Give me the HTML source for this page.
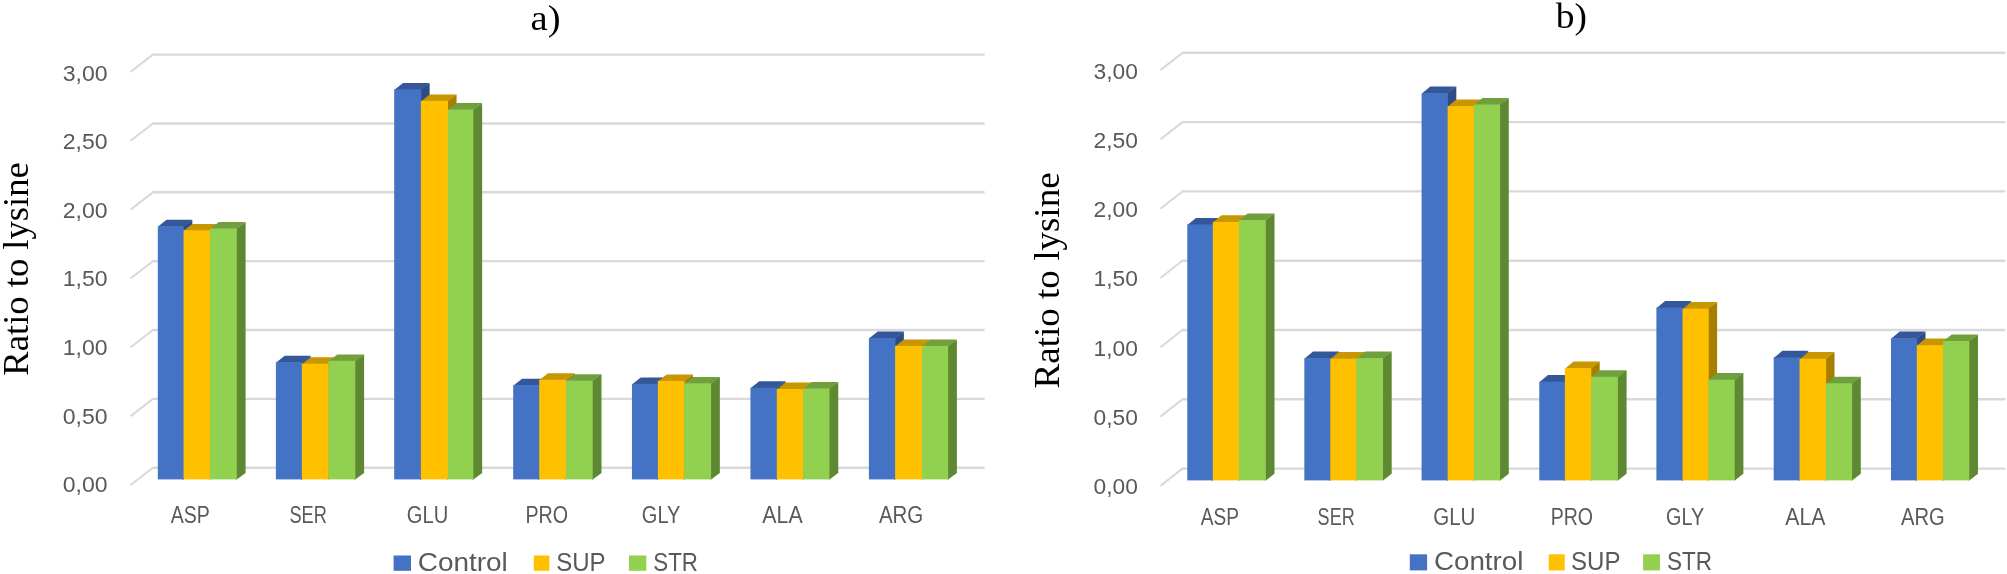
<!DOCTYPE html>
<html lang="en">
<head>
<meta charset="utf-8">
<title>Ratio to lysine - charts a) and b)</title>
<style>
html,body{margin:0;padding:0;background:#fff;}
body{width:2007px;height:574px;overflow:hidden;}
svg{display:block;}
text{white-space:pre;}
</style>
</head>
<body>
<svg width="2007" height="574" viewBox="0 0 2007 574">
<defs><filter id="soft" x="0" y="0" width="100%" height="100%" filterUnits="userSpaceOnUse" color-interpolation-filters="sRGB"><feGaussianBlur stdDeviation="0.45"/></filter></defs>
<g filter="url(#soft)">
<rect x="-10" y="-10" width="2027" height="594" fill="#fff"/>
<!-- chart a) -->
<g fill="none" stroke="#D9D9D9" stroke-width="2.4">
<path d="M152.6 467.7 H984.6"/>
<path d="M152.6 398.85 H984.6"/>
<path d="M152.6 330 H984.6"/>
<path d="M152.6 261.15 H984.6"/>
<path d="M152.6 192.3 H984.6"/>
<path d="M152.6 123.45 H984.6"/>
<path d="M152.6 54.6 H984.6"/>
</g>
<g fill="none" stroke="#D9D9D9" stroke-width="2.0" stroke-linecap="butt">
<path d="M130.6 485 L153.2 467.5"/>
<path d="M130.6 416.15 L153.2 398.65"/>
<path d="M130.6 347.3 L153.2 329.8"/>
<path d="M130.6 278.45 L153.2 260.95"/>
<path d="M130.6 209.6 L153.2 192.1"/>
<path d="M130.6 140.75 L153.2 123.25"/>
<path d="M130.6 71.9 L153.2 54.4"/>
</g>
<g shape-rendering="geometricPrecision">
<path fill="#2E4D87" d="M182.8 226.6 L192.3 219.7 L192.3 473 L182.8 479.9Z"/>
<path fill="#34579A" d="M157.8 226.7 L183.5 226.7 L192.3 219.7 L166.6 219.7Z"/>
<rect fill="#4472C4" x="157.8" y="226.1" width="26" height="253.3"/>
<path fill="#A87E00" d="M209.25 230.8 L218.75 223.9 L218.75 473 L209.25 479.9Z"/>
<path fill="#C79600" d="M183.5 230.9 L209.95 230.9 L218.75 223.9 L192.3 223.9Z"/>
<rect fill="#FFC000" x="183.5" y="230.3" width="26.75" height="249.1"/>
<path fill="#5F8833" d="M236.1 228.9 L245.6 222 L245.6 473 L236.1 479.9Z"/>
<path fill="#70A03E" d="M209.95 229 L236.8 229 L245.6 222 L218.75 222Z"/>
<rect fill="#92D050" x="209.95" y="228.4" width="26.85" height="251"/>
<path fill="#2E4D87" d="M301.15 362.7 L310.65 355.8 L310.65 473 L301.15 479.9Z"/>
<path fill="#34579A" d="M275.9 362.8 L301.85 362.8 L310.65 355.8 L284.7 355.8Z"/>
<rect fill="#4472C4" x="275.9" y="362.2" width="26.25" height="117.2"/>
<path fill="#A87E00" d="M327.7 364.2 L337.2 357.3 L337.2 473 L327.7 479.9Z"/>
<path fill="#C79600" d="M301.85 364.3 L328.4 364.3 L337.2 357.3 L310.65 357.3Z"/>
<rect fill="#FFC000" x="301.85" y="363.7" width="26.85" height="115.7"/>
<path fill="#5F8833" d="M354.6 361.3 L364.1 354.4 L364.1 473 L354.6 479.9Z"/>
<path fill="#70A03E" d="M328.4 361.4 L355.3 361.4 L364.1 354.4 L337.2 354.4Z"/>
<rect fill="#92D050" x="328.4" y="360.8" width="26.9" height="118.6"/>
<path fill="#2E4D87" d="M420.15 89.8 L429.65 82.9 L429.65 473 L420.15 479.9Z"/>
<path fill="#34579A" d="M394.2 89.9 L420.85 89.9 L429.65 82.9 L403 82.9Z"/>
<rect fill="#4472C4" x="394.2" y="89.3" width="26.95" height="390.1"/>
<path fill="#A87E00" d="M447.05 101.3 L456.55 94.4 L456.55 473 L447.05 479.9Z"/>
<path fill="#C79600" d="M420.85 101.4 L447.75 101.4 L456.55 94.4 L429.65 94.4Z"/>
<rect fill="#FFC000" x="420.85" y="100.8" width="27.2" height="378.6"/>
<path fill="#5F8833" d="M472.65 110 L482.15 103.1 L482.15 473 L472.65 479.9Z"/>
<path fill="#70A03E" d="M447.75 110.1 L473.35 110.1 L482.15 103.1 L456.55 103.1Z"/>
<rect fill="#92D050" x="447.75" y="109.5" width="25.6" height="369.9"/>
<path fill="#2E4D87" d="M538.5 385.6 L548 378.7 L548 473 L538.5 479.9Z"/>
<path fill="#34579A" d="M513.2 385.7 L539.2 385.7 L548 378.7 L522 378.7Z"/>
<rect fill="#4472C4" x="513.2" y="385.1" width="26.3" height="94.3"/>
<path fill="#A87E00" d="M565.1 380.2 L574.6 373.3 L574.6 473 L565.1 479.9Z"/>
<path fill="#C79600" d="M539.2 380.3 L565.8 380.3 L574.6 373.3 L548 373.3Z"/>
<rect fill="#FFC000" x="539.2" y="379.7" width="26.9" height="99.7"/>
<path fill="#5F8833" d="M592 381.1 L601.5 374.2 L601.5 473 L592 479.9Z"/>
<path fill="#70A03E" d="M565.8 381.2 L592.7 381.2 L601.5 374.2 L574.6 374.2Z"/>
<rect fill="#92D050" x="565.8" y="380.6" width="26.9" height="98.8"/>
<path fill="#2E4D87" d="M657.15 384.4 L666.65 377.5 L666.65 473 L657.15 479.9Z"/>
<path fill="#34579A" d="M631.95 384.5 L657.85 384.5 L666.65 377.5 L640.75 377.5Z"/>
<rect fill="#4472C4" x="631.95" y="383.9" width="26.2" height="95.5"/>
<path fill="#A87E00" d="M683.45 381.4 L692.95 374.5 L692.95 473 L683.45 479.9Z"/>
<path fill="#C79600" d="M657.85 381.5 L684.15 381.5 L692.95 374.5 L666.65 374.5Z"/>
<rect fill="#FFC000" x="657.85" y="380.9" width="26.6" height="98.5"/>
<path fill="#5F8833" d="M710.35 383.8 L719.85 376.9 L719.85 473 L710.35 479.9Z"/>
<path fill="#70A03E" d="M684.15 383.9 L711.05 383.9 L719.85 376.9 L692.95 376.9Z"/>
<rect fill="#92D050" x="684.15" y="383.3" width="26.9" height="96.1"/>
<path fill="#2E4D87" d="M776.1 388.2 L785.6 381.3 L785.6 473 L776.1 479.9Z"/>
<path fill="#34579A" d="M750.45 388.3 L776.8 388.3 L785.6 381.3 L759.25 381.3Z"/>
<rect fill="#4472C4" x="750.45" y="387.7" width="26.65" height="91.7"/>
<path fill="#A87E00" d="M802.4 389.5 L811.9 382.6 L811.9 473 L802.4 479.9Z"/>
<path fill="#C79600" d="M776.8 389.6 L803.1 389.6 L811.9 382.6 L785.6 382.6Z"/>
<rect fill="#FFC000" x="776.8" y="389" width="26.6" height="90.4"/>
<path fill="#5F8833" d="M828.75 389 L838.25 382.1 L838.25 473 L828.75 479.9Z"/>
<path fill="#70A03E" d="M803.1 389.1 L829.45 389.1 L838.25 382.1 L811.9 382.1Z"/>
<rect fill="#92D050" x="803.1" y="388.5" width="26.35" height="90.9"/>
<path fill="#2E4D87" d="M894.4 338.5 L903.9 331.6 L903.9 473 L894.4 479.9Z"/>
<path fill="#34579A" d="M868.9 338.6 L895.1 338.6 L903.9 331.6 L877.7 331.6Z"/>
<rect fill="#4472C4" x="868.9" y="338" width="26.5" height="141.4"/>
<path fill="#A87E00" d="M921.3 346.4 L930.8 339.5 L930.8 473 L921.3 479.9Z"/>
<path fill="#C79600" d="M895.1 346.5 L922 346.5 L930.8 339.5 L903.9 339.5Z"/>
<rect fill="#FFC000" x="895.1" y="345.9" width="27.2" height="133.5"/>
<path fill="#5F8833" d="M947.4 346.4 L956.9 339.5 L956.9 473 L947.4 479.9Z"/>
<path fill="#70A03E" d="M922 346.5 L948.1 346.5 L956.9 339.5 L930.8 339.5Z"/>
<rect fill="#92D050" x="922" y="345.9" width="26.1" height="133.5"/>
</g>
<g font-family="'Liberation Sans', Arial, sans-serif" font-size="22.3" fill="#595959">
<text x="62.8" y="492.35" textLength="44.9" lengthAdjust="spacingAndGlyphs">0,00</text>
<text x="62.8" y="423.73" textLength="44.9" lengthAdjust="spacingAndGlyphs">0,50</text>
<text x="62.8" y="355.11" textLength="44.9" lengthAdjust="spacingAndGlyphs">1,00</text>
<text x="62.8" y="286.49" textLength="44.9" lengthAdjust="spacingAndGlyphs">1,50</text>
<text x="62.8" y="217.87" textLength="44.9" lengthAdjust="spacingAndGlyphs">2,00</text>
<text x="62.8" y="149.25" textLength="44.9" lengthAdjust="spacingAndGlyphs">2,50</text>
<text x="62.8" y="80.63" textLength="44.9" lengthAdjust="spacingAndGlyphs">3,00</text>
</g>
<g font-family="'Liberation Sans', Arial, sans-serif" font-size="23" fill="#595959">
<text x="170.8" y="523.3" textLength="39.1" lengthAdjust="spacingAndGlyphs">ASP</text>
<text x="289.4" y="523.3" textLength="37.4" lengthAdjust="spacingAndGlyphs">SER</text>
<text x="406.8" y="523.3" textLength="41.4" lengthAdjust="spacingAndGlyphs">GLU</text>
<text x="525.5" y="523.3" textLength="42.6" lengthAdjust="spacingAndGlyphs">PRO</text>
<text x="641.8" y="523.3" textLength="38.6" lengthAdjust="spacingAndGlyphs">GLY</text>
<text x="762.3" y="523.3" textLength="40.4" lengthAdjust="spacingAndGlyphs">ALA</text>
<text x="878.9" y="523.3" textLength="44.4" lengthAdjust="spacingAndGlyphs">ARG</text>
</g>
<g font-family="'Liberation Sans', Arial, sans-serif" font-size="26" fill="#595959">
<rect x="393.6" y="555.5" width="17.4" height="15.3" fill="#4472C4"/>
<text x="417.8" y="570.9" textLength="90" lengthAdjust="spacingAndGlyphs">Control</text>
<rect x="533.8" y="555.5" width="15.6" height="15.3" fill="#FFC000"/>
<text x="556.2" y="570.9" textLength="49.4" lengthAdjust="spacingAndGlyphs">SUP</text>
<rect x="629" y="555.5" width="17.3" height="15.3" fill="#92D050"/>
<text x="653.3" y="570.9" textLength="44.6" lengthAdjust="spacingAndGlyphs">STR</text>
</g>
<g font-family="'Liberation Serif', 'Times New Roman', serif" fill="#000">
<text x="530.6" y="30.2" font-size="36" textLength="30" lengthAdjust="spacingAndGlyphs">a)</text>
<text transform="translate(27.6 375.7) rotate(-90)" font-size="36.5" textLength="213.5" lengthAdjust="spacingAndGlyphs">Ratio to lysine</text>
</g>
<!-- chart b) -->
<g fill="none" stroke="#D9D9D9" stroke-width="2.4">
<path d="M1182.1 468.6 H2005.4"/>
<path d="M1182.1 399.3 H2005.4"/>
<path d="M1182.1 330 H2005.4"/>
<path d="M1182.1 260.7 H2005.4"/>
<path d="M1182.1 191.4 H2005.4"/>
<path d="M1182.1 122.1 H2005.4"/>
<path d="M1182.1 52.8 H2005.4"/>
</g>
<g fill="none" stroke="#D9D9D9" stroke-width="2.0" stroke-linecap="butt">
<path d="M1160.4 485.9 L1182.7 468.4"/>
<path d="M1160.4 416.6 L1182.7 399.1"/>
<path d="M1160.4 347.3 L1182.7 329.8"/>
<path d="M1160.4 278 L1182.7 260.5"/>
<path d="M1160.4 208.7 L1182.7 191.2"/>
<path d="M1160.4 139.4 L1182.7 121.9"/>
<path d="M1160.4 70.1 L1182.7 52.6"/>
</g>
<g shape-rendering="geometricPrecision">
<path fill="#2E4D87" d="M1212.1 225 L1221.5 217.9 L1221.5 473.8 L1212.1 480.9Z"/>
<path fill="#34579A" d="M1187.3 225.1 L1212.8 225.1 L1221.5 217.9 L1196 217.9Z"/>
<rect fill="#4472C4" x="1187.3" y="224.5" width="25.8" height="255.9"/>
<path fill="#A87E00" d="M1238.2 222.4 L1247.6 215.3 L1247.6 473.8 L1238.2 480.9Z"/>
<path fill="#C79600" d="M1212.8 222.5 L1238.9 222.5 L1247.6 215.3 L1221.5 215.3Z"/>
<rect fill="#FFC000" x="1212.8" y="221.9" width="26.4" height="258.5"/>
<path fill="#5F8833" d="M1265.1 220.5 L1274.5 213.4 L1274.5 473.8 L1265.1 480.9Z"/>
<path fill="#70A03E" d="M1238.9 220.6 L1265.8 220.6 L1274.5 213.4 L1247.6 213.4Z"/>
<rect fill="#92D050" x="1238.9" y="220" width="26.9" height="260.4"/>
<path fill="#2E4D87" d="M1329.6 358.7 L1339 351.6 L1339 473.8 L1329.6 480.9Z"/>
<path fill="#34579A" d="M1304.35 358.8 L1330.3 358.8 L1339 351.6 L1313.05 351.6Z"/>
<rect fill="#4472C4" x="1304.35" y="358.2" width="26.25" height="122.2"/>
<path fill="#A87E00" d="M1355.7 359.2 L1365.1 352.1 L1365.1 473.8 L1355.7 480.9Z"/>
<path fill="#C79600" d="M1330.3 359.3 L1356.4 359.3 L1365.1 352.1 L1339 352.1Z"/>
<rect fill="#FFC000" x="1330.3" y="358.7" width="26.4" height="121.7"/>
<path fill="#5F8833" d="M1382.3 358.7 L1391.7 351.6 L1391.7 473.8 L1382.3 480.9Z"/>
<path fill="#70A03E" d="M1356.4 358.8 L1383 358.8 L1391.7 351.6 L1365.1 351.6Z"/>
<rect fill="#92D050" x="1356.4" y="358.2" width="26.6" height="122.2"/>
<path fill="#2E4D87" d="M1446.9 93.7 L1456.3 86.6 L1456.3 473.8 L1446.9 480.9Z"/>
<path fill="#34579A" d="M1421.6 93.8 L1447.6 93.8 L1456.3 86.6 L1430.3 86.6Z"/>
<rect fill="#4472C4" x="1421.6" y="93.2" width="26.3" height="387.2"/>
<path fill="#A87E00" d="M1473.1 106.6 L1482.5 99.5 L1482.5 473.8 L1473.1 480.9Z"/>
<path fill="#C79600" d="M1447.6 106.7 L1473.8 106.7 L1482.5 99.5 L1456.3 99.5Z"/>
<rect fill="#FFC000" x="1447.6" y="106.1" width="26.5" height="374.3"/>
<path fill="#5F8833" d="M1499.4 105 L1508.8 97.9 L1508.8 473.8 L1499.4 480.9Z"/>
<path fill="#70A03E" d="M1473.8 105.1 L1500.1 105.1 L1508.8 97.9 L1482.5 97.9Z"/>
<rect fill="#92D050" x="1473.8" y="104.5" width="26.3" height="375.9"/>
<path fill="#2E4D87" d="M1564.2 382.1 L1573.6 375 L1573.6 473.8 L1564.2 480.9Z"/>
<path fill="#34579A" d="M1539.3 382.2 L1564.9 382.2 L1573.6 375 L1548 375Z"/>
<rect fill="#4472C4" x="1539.3" y="381.6" width="25.9" height="98.8"/>
<path fill="#A87E00" d="M1590.3 368.7 L1599.7 361.6 L1599.7 473.8 L1590.3 480.9Z"/>
<path fill="#C79600" d="M1564.9 368.8 L1591 368.8 L1599.7 361.6 L1573.6 361.6Z"/>
<rect fill="#FFC000" x="1564.9" y="368.2" width="26.4" height="112.2"/>
<path fill="#5F8833" d="M1617.2 377.3 L1626.6 370.2 L1626.6 473.8 L1617.2 480.9Z"/>
<path fill="#70A03E" d="M1591 377.4 L1617.9 377.4 L1626.6 370.2 L1599.7 370.2Z"/>
<rect fill="#92D050" x="1591" y="376.8" width="26.9" height="103.6"/>
<path fill="#2E4D87" d="M1681.8 308.1 L1691.2 301 L1691.2 473.8 L1681.8 480.9Z"/>
<path fill="#34579A" d="M1656.4 308.2 L1682.5 308.2 L1691.2 301 L1665.1 301Z"/>
<rect fill="#4472C4" x="1656.4" y="307.6" width="26.4" height="172.8"/>
<path fill="#A87E00" d="M1707.7 309.1 L1717.1 302 L1717.1 473.8 L1707.7 480.9Z"/>
<path fill="#C79600" d="M1682.5 309.2 L1708.4 309.2 L1717.1 302 L1691.2 302Z"/>
<rect fill="#FFC000" x="1682.5" y="308.6" width="26.2" height="171.8"/>
<path fill="#5F8833" d="M1734 380.2 L1743.4 373.1 L1743.4 473.8 L1734 480.9Z"/>
<path fill="#70A03E" d="M1708.4 380.3 L1734.7 380.3 L1743.4 373.1 L1717.1 373.1Z"/>
<rect fill="#92D050" x="1708.4" y="379.7" width="26.3" height="100.7"/>
<path fill="#2E4D87" d="M1798.8 357.9 L1808.2 350.8 L1808.2 473.8 L1798.8 480.9Z"/>
<path fill="#34579A" d="M1773.7 358 L1799.5 358 L1808.2 350.8 L1782.4 350.8Z"/>
<rect fill="#4472C4" x="1773.7" y="357.4" width="26.1" height="123"/>
<path fill="#A87E00" d="M1825.1 359.2 L1834.5 352.1 L1834.5 473.8 L1825.1 480.9Z"/>
<path fill="#C79600" d="M1799.5 359.3 L1825.8 359.3 L1834.5 352.1 L1808.2 352.1Z"/>
<rect fill="#FFC000" x="1799.5" y="358.7" width="26.6" height="121.7"/>
<path fill="#5F8833" d="M1851.4 383.8 L1860.8 376.7 L1860.8 473.8 L1851.4 480.9Z"/>
<path fill="#70A03E" d="M1825.8 383.9 L1852.1 383.9 L1860.8 376.7 L1834.5 376.7Z"/>
<rect fill="#92D050" x="1825.8" y="383.3" width="26.3" height="97.1"/>
<path fill="#2E4D87" d="M1916.1 338.7 L1925.5 331.6 L1925.5 473.8 L1916.1 480.9Z"/>
<path fill="#34579A" d="M1891 338.8 L1916.8 338.8 L1925.5 331.6 L1899.7 331.6Z"/>
<rect fill="#4472C4" x="1891" y="338.2" width="26.1" height="142.2"/>
<path fill="#A87E00" d="M1942.3 345.7 L1951.7 338.6 L1951.7 473.8 L1942.3 480.9Z"/>
<path fill="#C79600" d="M1916.8 345.8 L1943 345.8 L1951.7 338.6 L1925.5 338.6Z"/>
<rect fill="#FFC000" x="1916.8" y="345.2" width="26.5" height="135.2"/>
<path fill="#5F8833" d="M1968.6 341.5 L1978 334.4 L1978 473.8 L1968.6 480.9Z"/>
<path fill="#70A03E" d="M1943 341.6 L1969.3 341.6 L1978 334.4 L1951.7 334.4Z"/>
<rect fill="#92D050" x="1943" y="341" width="26.3" height="139.4"/>
</g>
<g font-family="'Liberation Sans', Arial, sans-serif" font-size="22.3" fill="#595959">
<text x="1093.6" y="493.7" textLength="44.4" lengthAdjust="spacingAndGlyphs">0,00</text>
<text x="1093.6" y="424.6" textLength="44.4" lengthAdjust="spacingAndGlyphs">0,50</text>
<text x="1093.6" y="355.5" textLength="44.4" lengthAdjust="spacingAndGlyphs">1,00</text>
<text x="1093.6" y="286.4" textLength="44.4" lengthAdjust="spacingAndGlyphs">1,50</text>
<text x="1093.6" y="217.3" textLength="44.4" lengthAdjust="spacingAndGlyphs">2,00</text>
<text x="1093.6" y="148.2" textLength="44.4" lengthAdjust="spacingAndGlyphs">2,50</text>
<text x="1093.6" y="79.1" textLength="44.4" lengthAdjust="spacingAndGlyphs">3,00</text>
</g>
<g font-family="'Liberation Sans', Arial, sans-serif" font-size="23" fill="#595959">
<text x="1200.8" y="524.6" textLength="38.2" lengthAdjust="spacingAndGlyphs">ASP</text>
<text x="1317.6" y="524.6" textLength="37.1" lengthAdjust="spacingAndGlyphs">SER</text>
<text x="1433.2" y="524.6" textLength="42.2" lengthAdjust="spacingAndGlyphs">GLU</text>
<text x="1550.7" y="524.6" textLength="42.3" lengthAdjust="spacingAndGlyphs">PRO</text>
<text x="1666.1" y="524.6" textLength="38.2" lengthAdjust="spacingAndGlyphs">GLY</text>
<text x="1785.3" y="524.6" textLength="40.1" lengthAdjust="spacingAndGlyphs">ALA</text>
<text x="1901.1" y="524.6" textLength="43.7" lengthAdjust="spacingAndGlyphs">ARG</text>
</g>
<g font-family="'Liberation Sans', Arial, sans-serif" font-size="26" fill="#595959">
<rect x="1409.8" y="554.3" width="17.3" height="16.1" fill="#4472C4"/>
<text x="1433.9" y="570.4" textLength="89.5" lengthAdjust="spacingAndGlyphs">Control</text>
<rect x="1548.7" y="554.3" width="16" height="16.1" fill="#FFC000"/>
<text x="1571.1" y="570.4" textLength="49.4" lengthAdjust="spacingAndGlyphs">SUP</text>
<rect x="1643.1" y="554.3" width="16.9" height="16.1" fill="#92D050"/>
<text x="1666.9" y="570.4" textLength="45.1" lengthAdjust="spacingAndGlyphs">STR</text>
</g>
<g font-family="'Liberation Serif', 'Times New Roman', serif" fill="#000">
<text x="1555.8" y="27.9" font-size="36.5" textLength="31.2" lengthAdjust="spacingAndGlyphs">b)</text>
<text transform="translate(1059.1 388.4) rotate(-90)" font-size="36.5" textLength="216" lengthAdjust="spacingAndGlyphs">Ratio to lysine</text>
</g>
</g>
</svg>
</body>
</html>
